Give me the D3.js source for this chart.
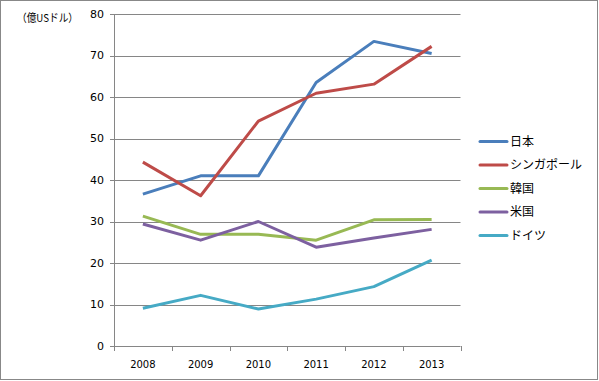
<!DOCTYPE html>
<html><head><meta charset="utf-8">
<script src="https://cdn.jsdelivr.net/npm/d3@7"></script>
<style>body{margin:0;background:#fff}svg{display:block}</style>
</head><body>
<svg id="c" width="599" height="381"></svg>
<script>
const years = ["2008","2009","2010","2011","2012","2013"];
const seriesNames = ["日本","シンガポール","韓国","米国","ドイツ"];
const japan = [36.6, 41.0, 41.0, 63.5, 73.4, 70.5];
const singapore = [44.3, 36.2, 54.2, 60.9, 63.1, 72.2];
const korea = [31.3, 26.9, 26.9, 25.5, 30.4, 30.5];
const usa = [29.4, 25.5, 30.0, 23.8, 26.0, 28.1];
const germany = [9.1, 12.2, 8.9, 11.3, 14.3, 20.7];
const yTicks = [0,10,20,30,40,50,60,70,80];
const unitLabel = "（億USドル）";
const colors = ["#4A7EBB","#BE4B48","#98B954","#7D60A0","#46AAC5"];
const allSeries = [japan, singapore, korea, usa, germany];

const svg = d3.select("#c");
const font = "Verdana, 'DejaVu Sans', sans-serif";
svg.append("rect").attr("x",0.5).attr("y",0.5).attr("width",597).attr("height",379)
  .attr("fill","#fff").attr("stroke","#888");

const L = 114, R = 460.5, T = 14, B = 346;
const x = d3.scaleBand().domain(years).range([L, R]);
const y = d3.scaleLinear().domain([0, 80]).range([B, T]);

// gridlines
svg.append("g").selectAll("line").data(yTicks).join("line")
  .attr("x1", L - 4).attr("x2", R)
  .attr("y1", d => Math.round(y(d)) + 0.5).attr("y2", d => Math.round(y(d)) + 0.5)
  .attr("stroke", "#868686").attr("stroke-width", 1);
// y axis line
svg.append("line").attr("x1", L + 0.5).attr("x2", L + 0.5).attr("y1", T).attr("y2", B + 5)
  .attr("stroke", "#868686");
// x ticks
const xb = years.map(d => x(d)).concat([R]);
svg.append("g").selectAll("line").data(xb).join("line")
  .attr("x1", d => Math.round(d) + 0.5).attr("x2", d => Math.round(d) + 0.5)
  .attr("y1", B).attr("y2", B + 5).attr("stroke", "#868686");
// y labels
svg.append("g").selectAll("text").data(yTicks).join("text")
  .attr("x", L - 10).attr("y", d => y(d)).attr("dy", "0.35em")
  .attr("text-anchor", "end").attr("font-family", font).attr("font-size", 11)
  .attr("fill", "#000").text(d => d);
// x labels
svg.append("g").selectAll("text").data(years).join("text")
  .attr("x", d => x(d) + x.bandwidth() / 2).attr("y", 368)
  .attr("text-anchor", "middle").attr("font-family", font).attr("font-size", 10)
  .attr("fill", "#000").text(d => d);
// unit label
svg.append("text").attr("x", 17).attr("y", 22).attr("font-family", "'Noto Sans CJK JP', sans-serif")
  .attr("font-size", 11).attr("textLength", 61).attr("lengthAdjust", "spacingAndGlyphs")
  .attr("fill", "#000").text(unitLabel);

// lines
const line = d3.line().x((d, i) => x(years[i]) + x.bandwidth() / 2).y(d => y(d));
svg.append("g").selectAll("path").data(allSeries).join("path")
  .attr("d", d => line(d)).attr("fill", "none")
  .attr("stroke", (d, i) => colors[i]).attr("stroke-width", 3)
  .attr("stroke-linejoin", "round");

// legend
const leg = svg.append("g").selectAll("g").data(seriesNames).join("g")
  .attr("transform", (d, i) => `translate(480, ${141.5 + i * 23.5})`);
leg.append("line").attr("x1", 0).attr("x2", 27).attr("y1", 0).attr("y2", 0)
  .attr("stroke", (d, i) => colors[i]).attr("stroke-width", 3).attr("stroke-linecap","round");
leg.append("text").attr("x", 30).attr("y", 0).attr("dy", "0.36em")
  .attr("font-family", "'Noto Sans CJK JP', sans-serif").attr("font-size", 12)
  .attr("fill", "#000").text(d => d);
</script>
</body></html>
